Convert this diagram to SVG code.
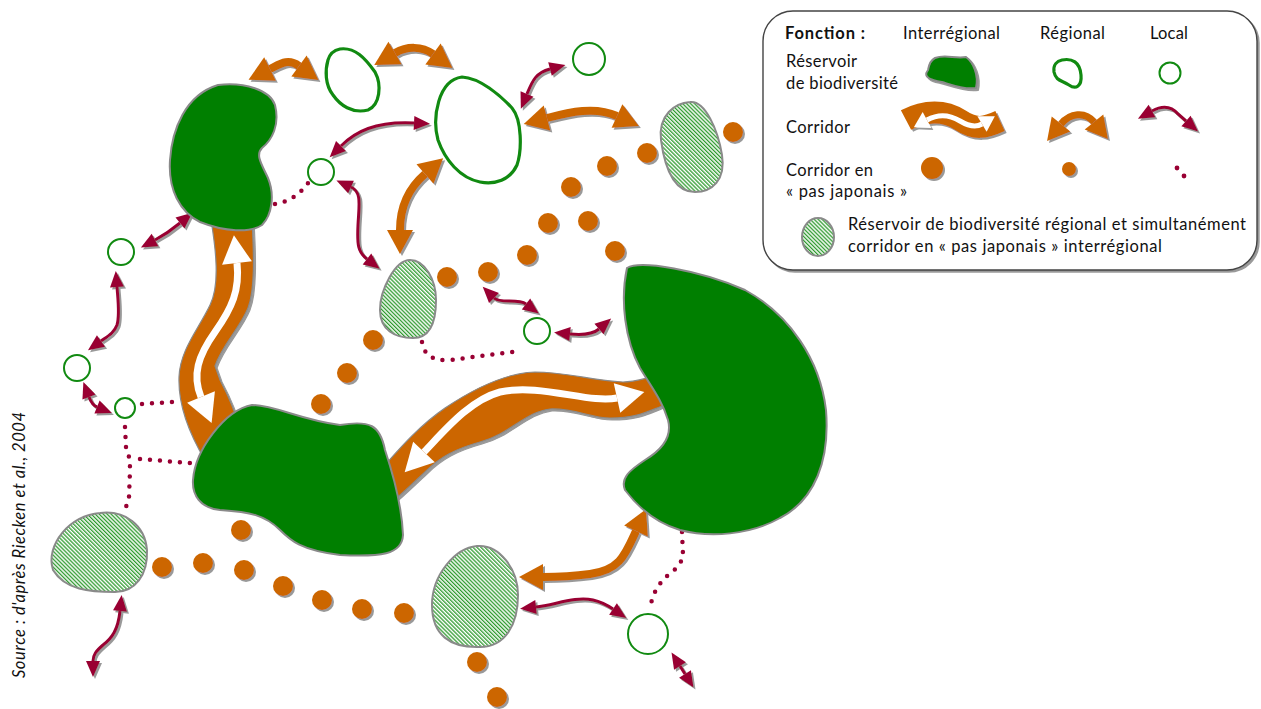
<svg xmlns="http://www.w3.org/2000/svg" width="1261" height="709" viewBox="0 0 1261 709">
  <defs>
    <style>
      .res { fill: #007F00; stroke: #8a8a8a; stroke-width: 2; }
      .reg { fill: none; stroke: #118A11; stroke-width: 3.2; }
      .loc { fill: #fff; stroke: #118A11; stroke-width: 2; }
      .hat { fill: url(#hatch); stroke: #8a8a8a; stroke-width: 2; }
      .dot { fill: #CC6600; }
      .band { fill: #CC6600; stroke: #8a8a8a; stroke-width: 1.2; }
      .wshaft { fill: none; stroke: #fff; stroke-width: 7; marker-start: url(#wh); marker-end: url(#wh); }
      .oarr { fill: none; stroke: #CC6600; stroke-width: 8; marker-start: url(#oh); marker-end: url(#oh); }
      .marr { fill: none; stroke: #990033; stroke-width: 3; marker-start: url(#mh); marker-end: url(#mh); }
      .dots { fill: none; stroke: #990033; stroke-width: 4.5; stroke-linecap: round; stroke-dasharray: 0 10; }
      .sh { filter: url(#ds); }
      text { font-family: Lato, "Noto Sans", "DejaVu Sans", sans-serif; font-size: 16.5px; fill: #111; }
    </style>
    <filter id="ds" x="-20%" y="-20%" width="150%" height="150%">
      <feDropShadow dx="2" dy="2" stdDeviation="0.7" flood-color="#555" flood-opacity="0.6"/>
    </filter>
    <pattern id="hatch" width="2.8" height="2.8" patternUnits="userSpaceOnUse" patternTransform="rotate(-45)">
      <rect width="2.8" height="2.8" fill="#ffffff"/>
      <rect width="1.3" height="2.8" fill="#2E9A2E"/>
    </pattern>
    <marker id="mh" viewBox="0 -8 17 16" markerWidth="17" markerHeight="16" markerUnits="userSpaceOnUse" refX="0" refY="0" orient="auto-start-reverse" overflow="visible">
      <path d="M0,-7 L16,0 L0,7 Z" fill="#990033"/>
    </marker>
    <marker id="oh" viewBox="0 -14 25 28" markerWidth="25" markerHeight="28" markerUnits="userSpaceOnUse" refX="0" refY="0" orient="auto-start-reverse" overflow="visible">
      <path d="M0,-13 L24,0 L0,13 Z" fill="#CC6600"/>
    </marker>
    <marker id="wh" viewBox="0 -16 30 32" markerWidth="30" markerHeight="32" markerUnits="userSpaceOnUse" refX="0" refY="0" orient="auto-start-reverse" overflow="visible">
      <path d="M0,-15 L28,0 L0,15 Z" fill="#ffffff"/>
    </marker>
    <marker id="whs" viewBox="0 -10 16 20" markerWidth="16" markerHeight="20" markerUnits="userSpaceOnUse" refX="0" refY="0" orient="auto-start-reverse" overflow="visible">
      <path d="M0,-9 L15,0 L0,9 Z" fill="#ffffff"/>
    </marker>
    <marker id="ohs" viewBox="0 -12 22 24" markerWidth="22" markerHeight="24" markerUnits="userSpaceOnUse" refX="0" refY="0" orient="auto-start-reverse" overflow="visible">
      <path d="M0,-12 L22,0 L0,12 Z" fill="#CC6600"/>
    </marker>
  </defs>

  <rect width="1261" height="709" fill="#ffffff"/>

  <!-- connectors: corridors and linking dots -->
  <g id="connectors">
    <!-- interregional corridors (wide bands with two-way white arrows) -->
    <g id="band-vertical" class="sh">
      <path class="band" d="M211,220 C216,250 220,285 210,305 C198,330 180,350 179,377 C178,405 190,435 205,460 L240,430 C235,410 228,395 220,380 L215,366 C222,345 240,328 248,308 C255,290 254,255 252,220 Z"/>
      <path class="wshaft" d="M237,263 C240,290 232,308 215,332 C198,356 192,375 201,397"/>
    </g>
    <g id="band-horizontal" class="sh">
      <path class="band" d="M385,465 C400,448 420,425 445,408 C475,388 505,373 535,372 C565,372 590,380 623,382 C635,382 645,378 660,375 L665,405 C650,410 640,418 610,418 C590,418 575,408 550,409 C525,412 510,434 480,442 C455,449 440,457 425,472 C412,484 402,494 392,502 Z"/>
      <path class="wshaft" d="M424,452 C445,430 470,400 500,392 C540,383 590,404 617,398"/>
    </g>

    <!-- regional corridors -->
    <g id="regional-corridors" class="sh">
      <path class="oarr" d="M270,69 C280,64 288,58 299,66"/>
      <path class="oarr" d="M395,53 C407,46 422,46 433,54"/>
      <path class="oarr" stroke-width="7" d="M547,118 C570,112 595,106 617,116"/>
      <path class="oarr" stroke-width="10" d="M425,174 C410,187 400,205 400,230"/>
      <path class="oarr" stroke-width="9" d="M636,531 C625,555 620,570 590,574 C575,576 560,577 543,577"/>
    </g>

    <!-- local corridors -->
    <g id="local-corridors" class="sh">
      <path class="marr" d="M527,94 C532,82 535,73 550,69"/>
      <path class="marr" d="M341,146 C355,132 375,121 414,123"/>
      <path class="marr" d="M351,187 C362,192 359,205 358,225 C357,245 358,252 367,259"/>
      <path class="marr" d="M494,298 C500,304 518,298 526,304"/>
      <path class="marr" d="M570,334 C580,335 592,335 599,329"/>
      <path class="marr" d="M155,240 Q168,233 180,223"/>
      <path class="marr" d="M117,287 C118,300 120,315 117,325 C114,333 108,336 101,341"/>
      <path class="marr" d="M89,397 Q92,405 97,407"/>
      <path class="marr" d="M120,611 C118,630 112,638 103,645 C96,651 93,655 93,661"/>
      <path class="marr" d="M536,607 C555,605 575,596 593,600 C602,602 607,605 613,609"/>
      <path class="marr" d="M680,666 L685,674"/>
    </g>

    <!-- local stepping-stone links -->
    <g id="local-stepping-stones">
      <path class="dots" d="M275,204 Q295,201 308,183"/>
      <path class="dots" d="M422,342 Q425,362 450,360 L520,351"/>
      <path class="dots" d="M142,404 L172,402"/>
      <path class="dots" d="M125,427 L126,447 Q130,456 130,470 L129,497 L124,514"/>
      <path class="dots" d="M140,459 L190,463"/>
      <path class="dots" d="M682,532 L683,555 Q682,565 667,576 Q652,590 650,610"/>
    </g>
  </g>

  <!-- interregional stepping stones -->
  <g id="stepping-stones" class="sh">
    <circle class="dot" cx="733" cy="132" r="10"/>
    <circle class="dot" cx="647" cy="153" r="10"/>
    <circle class="dot" cx="607" cy="166" r="10"/>
    <circle class="dot" cx="571" cy="187" r="10"/>
    <circle class="dot" cx="548" cy="223" r="10"/>
    <circle class="dot" cx="588" cy="221" r="10"/>
    <circle class="dot" cx="615" cy="251" r="10"/>
    <circle class="dot" cx="527" cy="255" r="10"/>
    <circle class="dot" cx="488" cy="272" r="10"/>
    <circle class="dot" cx="447" cy="277" r="10"/>
    <circle class="dot" cx="373" cy="340" r="10"/>
    <circle class="dot" cx="347" cy="373" r="10"/>
    <circle class="dot" cx="321" cy="404" r="10"/>
    <circle class="dot" cx="241" cy="530" r="10"/>
    <circle class="dot" cx="162" cy="567" r="10"/>
    <circle class="dot" cx="203" cy="563" r="10"/>
    <circle class="dot" cx="244" cy="570" r="10"/>
    <circle class="dot" cx="283" cy="586" r="10"/>
    <circle class="dot" cx="322" cy="600" r="10"/>
    <circle class="dot" cx="362" cy="609" r="10"/>
    <circle class="dot" cx="404" cy="613" r="10"/>
    <circle class="dot" cx="477" cy="662" r="10"/>
    <circle class="dot" cx="497" cy="697" r="10"/>
  </g>

  <!-- interregional reservoirs -->
  <g id="reservoir-northwest">
    <path class="res" d="M218,85 C245,82 270,90 275,105 C280,125 272,140 262,148 C255,155 262,165 268,178 C275,195 272,215 262,225 C250,233 225,232 200,222 C180,212 168,190 170,160 C172,130 185,95 218,85 Z"/>
  </g>
  <g id="reservoir-southwest">
    <path class="res" d="M252,405 C275,405 300,420 340,425 C370,420 380,425 385,450 C395,480 402,510 403,535 C402,555 380,557 340,555 C300,550 290,540 280,530 C265,515 250,512 220,510 C200,508 192,495 193,480 C195,450 225,410 252,405 Z"/>
  </g>
  <g id="reservoir-east">
    <path class="res" d="M627,268 C640,260 700,270 745,290 C790,315 820,360 826,410 C830,460 815,500 780,518 C750,535 710,538 680,530 C660,524 640,510 625,490 C620,478 630,470 645,460 C665,448 672,435 668,420 C662,400 650,385 640,368 C625,340 620,300 627,268 Z"/>
  </g>

  <!-- regional reservoirs that are also stepping stones -->
  <g id="hatched-northeast"><path class="hat" d="M690,102 C705,100 718,130 722,155 C726,180 712,192 695,192 C675,192 665,170 661,140 C658,115 675,103 690,102 Z"/></g>
  <g id="hatched-centre"><path class="hat" d="M410,260 C425,260 436,280 436,300 C436,325 428,338 413,338 C395,338 380,330 380,310 C380,290 395,260 410,260 Z"/></g>
  <g id="hatched-southwest"><path class="hat" d="M100,513 C125,510 145,525 147,550 C148,575 135,592 115,592 C90,592 65,590 53,570 C45,545 70,515 100,513 Z"/></g>
  <g id="hatched-south"><path class="hat" d="M477,546 C500,544 518,570 518,595 C518,625 505,647 480,647 C450,648 432,635 432,605 C432,575 455,548 477,546 Z"/></g>

  <!-- regional reservoirs -->
  <g id="regional-north"><path class="reg" d="M340,49 C355,47 365,58 375,72 C382,85 380,105 368,110 C352,114 340,105 333,95 C325,85 325,70 328,60 C330,53 335,50 340,49 Z"/></g>
  <g id="regional-centre"><path class="reg" d="M462,77 C480,78 500,95 512,108 C522,120 522,150 517,165 C510,180 495,185 480,182 C460,178 445,160 438,140 C432,118 438,80 462,77 Z"/></g>

  <!-- local reservoirs -->
  <g id="local-1"><circle class="loc" cx="589" cy="59" r="16"/></g>
  <g id="local-2"><circle class="loc" cx="321" cy="172" r="13"/></g>
  <g id="local-3"><circle class="loc" cx="121" cy="252" r="13"/></g>
  <g id="local-4"><circle class="loc" cx="77" cy="368" r="13"/></g>
  <g id="local-5"><circle class="loc" cx="125" cy="408" r="10"/></g>
  <g id="local-6"><circle class="loc" cx="537" cy="331" r="13"/></g>
  <g id="local-7"><circle class="loc" cx="648" cy="634" r="20"/></g>

  <!-- legend -->
  <g id="legend">
    <rect x="763" y="11" width="494" height="259" rx="30" fill="#fff" stroke="#444" stroke-width="1.4" class="sh"/>
    <text x="785" y="39" font-weight="bold" textLength="80">Fonction :</text>
    <text x="903" y="39" textLength="97">Interrégional</text>
    <text x="1040" y="39" textLength="65">Régional</text>
    <text x="1150" y="39" textLength="38">Local</text>
    <text x="786" y="67" textLength="71">Réservoir</text>
    <text x="786" y="89" textLength="112">de biodiversité</text>
    <text x="786" y="133" textLength="64">Corridor</text>
    <text x="786" y="176" textLength="87">Corridor en</text>
    <text x="786" y="197" textLength="121">« pas japonais »</text>
    <text x="848" y="230" textLength="398">Réservoir de biodiversité régional et simultanément</text>
    <text x="848" y="252" textLength="314">corridor en « pas japonais » interrégional</text>

    <path class="res sh" d="M935,58 C945,54 955,59 966,57 C973,62 979,75 976,88 C965,90 952,85 942,82 C932,80 922,78 928,70 C929,64 931,60 935,58 Z"/>
    <path class="reg" d="M1062,60 C1072,58 1080,62 1081,75 C1082,86 1076,90 1069,85 C1061,80 1056,81 1054,72 C1053,65 1057,61 1062,60 Z"/>
    <circle class="loc" cx="1170" cy="73" r="10.5"/>

    <g class="sh">
      <path d="M906,120 C925,110 945,110 960,120 C975,130 985,128 1000,121" fill="none" stroke="#CC6600" stroke-width="22"/>
      <path d="M927,120 C938,114 950,115 960,121 C970,127 977,127 982,124" fill="none" stroke="#fff" stroke-width="5" marker-start="url(#whs)" marker-end="url(#whs)"/>
      <path d="M1061,124 C1070,113 1085,111 1094,122" fill="none" stroke="#CC6600" stroke-width="7" marker-start="url(#ohs)" marker-end="url(#ohs)"/>
      <path d="M1152,111 C1163,105 1172,107 1178,114 L1186,121" fill="none" stroke="#990033" stroke-width="3" marker-start="url(#mh)" marker-end="url(#mh)"/>
      <circle class="dot" cx="932" cy="168" r="11"/>
      <circle class="dot" cx="1069" cy="169" r="7"/>
    </g>
    <circle cx="1177" cy="168" r="2.4" fill="#990033"/>
    <circle cx="1184" cy="176" r="2.4" fill="#990033"/>
    <ellipse class="hat" cx="818" cy="237" rx="16" ry="19"/>
  </g>

  <text x="25" y="678" transform="rotate(-90 25 678)" font-style="italic" font-size="16" textLength="266">Source : d'après Riecken et al., 2004</text>
</svg>
